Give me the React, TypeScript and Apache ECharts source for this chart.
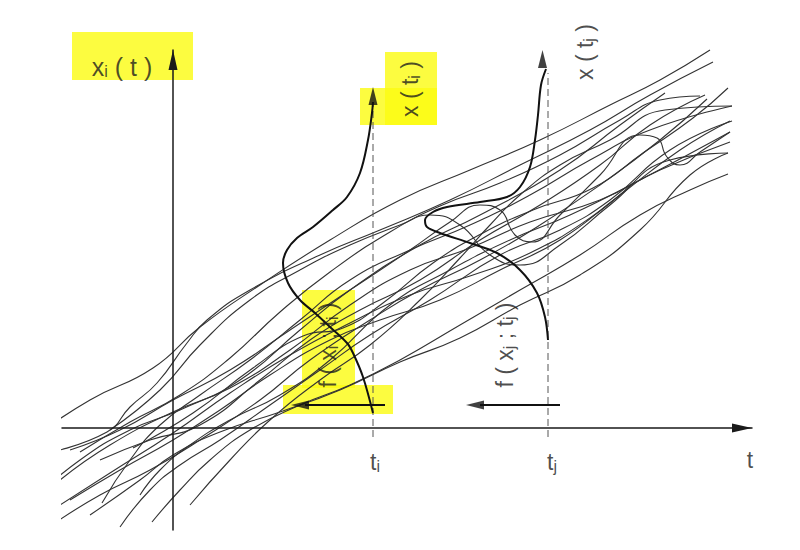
import React, { useEffect, useRef } from "react";
import * as echarts from "echarts";

// time marks on the t axis
const TI = 20;
const TJ = 37.5;

// sample paths x_k(t) : [t, x]
const path01 = [[-13.6,-0.7],[-8.3,2.8],[-2,6],[2.7,10.1],[8.7,14.3],[15.7,18.8],[22.7,22.8],[29.7,25.8],[36.7,28.8],[43.7,32.3],[48.7,34.8],[53.7,37.8]];
const path02 = [[-12.6,-2.5],[-6.6,-0.4],[-4.3,2.1],[-1.6,4.5],[1.4,8.5],[3.4,10.8],[7.7,13.8],[14.7,17.3],[20.7,19.8],[27.7,22.8],[34.7,26.3],[41.7,29.8],[47.7,33.3],[54,36.6]];
const path03 = [[-13.8,-7],[-9.3,-3.2],[-4.3,-0.2],[0.7,1.8],[6.7,4.8],[12.7,9.8],[17.7,13.8],[24.7,18.3],[30.7,21.3],[38.7,25.8],[44.7,30.3],[49.2,33.5]];
const path04 = [[-12.1,-9.7],[-7.3,-6.7],[-2.3,-4.2],[2.7,-1.2],[8.7,2.8],[13.7,6.8],[19.7,10.8],[24.7,13.8],[30.7,16.8],[36.7,20.3],[42.7,24.3],[48.7,28.8],[53.4,32.9]];
const path05 = [[-7.1,-7.5],[-4.3,-3.2],[-1.3,0.3],[2.7,3.3],[7.7,6.8],[12.7,10.8],[17.7,14.8],[23.7,17.8],[29.7,20.3],[35.7,23.3],[41.7,26.8],[47.7,29.8],[55.9,32.2]];
const path06 = [[-5.3,-9.9],[-2.3,-6.2],[0.7,-3.7],[4.7,-1.2],[9.7,2.3],[14.7,5.8],[19.7,9.3],[25.7,12.8],[32.7,17.3],[38.7,19.8],[43.7,22.8],[49.7,27.8],[55.9,30.7]];
const path07 = [[-3.3,-6.7],[-1.3,-4.2],[1.7,-1.7],[5.7,0.8],[10.7,3.3],[15.7,6.8],[21.7,12.3],[27.7,15.8],[33.7,18.8],[39.7,21.3],[46.7,24.8],[55.7,29.6]];
const path08 = [[-2.1,-9.4],[0.7,-6.2],[3.7,-3.2],[7.7,-0.2],[12.7,2.3],[17.7,4.3],[22.7,6.8],[28.7,10.3],[34.7,13.8],[40.7,17.3],[46.7,21.3],[51.7,23.8],[55.5,25.4]];
const path09 = [[-10.3,-2.2],[-5.3,-0.2],[0,2.8],[5.7,5.8],[11.7,9.8],[17.7,13.8],[23.7,17.8],[27.7,20.6],[30.7,22.3],[32.7,21.8],[34.2,19.3],[35.9,18.6],[38.7,21.3],[42.7,25.3],[46.7,29.3],[48.4,29],[49.4,27.1],[50.7,26.3],[52.7,27.6],[55.7,29.6]];
const path10 = [[-8.3,-8.7],[-3.3,-5.2],[0,-2.7],[4.7,-0.4],[10.7,1.6],[16.7,3.8],[22.7,6.6],[28.7,9],[34.7,12.3],[40.7,15.3],[46.7,19.8],[51.7,25.3],[55.5,27.5]];
const path11 = [[-11.3,-5.2],[-6.3,-1.7],[0,1.6],[5.7,4],[11.7,7.8],[17.7,12.3],[23.7,15.8],[29.7,18],[35.7,20.6],[42.7,22.8],[48.7,25.8],[55.7,28.6]];
const path12 = [[-9.3,-2.4],[-4.3,0.6],[0.7,3.3],[5.7,7],[10.7,11.6],[15.7,15.6],[21.7,19.6],[26.7,22.2],[32.7,24.5],[38.7,27.3],[44.7,30.8],[48.7,32.8],[52.7,33.2]];
const path13 = [[1.7,-7.7],[5.7,-3.2],[9.7,0.8],[14.7,4.8],[19.7,8.3],[24.7,12.8],[28.7,17],[31.7,20.3],[34.7,23.3],[38.7,26.3],[43.7,28.8],[49.2,31.8],[55.9,32.2]];
const path14 = [[-6.3,-0.2],[-1.3,3.8],[2.7,8.3],[7.7,12.8],[12.7,15.8],[17.7,18.3],[22.7,20.3],[25.7,21.3],[28.7,20.3],[31.7,17.3],[34.7,16.3],[38.7,18.3],[43.7,22.3],[49.7,26.8],[55.5,27.5]];
const path15 = [[-10.3,-7.2],[-5.3,-4.2],[0,-1.2],[4.7,1.8],[9.7,5.3],[15.7,8.8],[20.7,10.8],[26.7,12.8],[32.7,15.8],[38.7,18.8],[44.7,23.3],[50.7,27.8],[55.7,30.7]];
const path16 = [[-7.3,-3.2],[-2.3,-1.2],[2.7,0.3],[8.7,4.8],[13.7,8.8],[18.7,11.8],[24.7,14.8],[30.7,18.8],[36.7,22.3],[42.7,26.3],[47.7,30.3],[53.2,33.3]];
const path17 = [[-11.3,-7.7],[-6.3,-4.5],[0,-0.5],[5.7,3.5],[11.7,7.3],[17.7,10.5],[23.7,13.3],[29.7,15.2],[35.7,17.5],[41.7,21],[46,24.5]];
const path18 = [[-4,-2],[2,1.5],[8,6],[13,9.2],[17,10],[21,12.5],[26,16.5],[31,19.5],[36,21.8],[42,24],[47,27.5],[52,31],[55.5,34]];

const paths = [path01, path02, path03, path04, path05, path06, path07, path08,
  path09, path10, path11, path12, path13, path14, path15, path16, path17, path18];

// density f(x_i; t_i) drawn sideways at t_i : [t, x]
const densityI = [[20,1.5],[19,5.1],[18,7.5],[17.4,8.5],[15.7,10.1],[14.2,11.5],[12.7,12.8],[11.5,14.5],[11,16.5],[11.4,17.8],[12.4,19],[14,20.1],[16,21.8],[17.4,23.1],[18.7,25.5],[19.5,28.8],[19.9,31.5],[20,32.6]];
// density f(x_j; t_j) drawn sideways at t_j
const densityJ = [[37.5,8.8],[37.2,11.1],[36.4,13.5],[34.7,15.8],[32.4,17.5],[29.7,18.5],[26.7,19.5],[25.4,20.1],[25.2,20.8],[26,21.6],[27.4,22.1],[30.7,22.6],[33.4,23.1],[34.7,24.1],[35.7,26.1],[36.2,28.8],[36.5,31.3],[36.8,34.3],[37.3,35.9]];

// labels (text) and their anchor points
const labelTexts = ["x{s|i} ( t )", "x ( t{s|i} )", "x ( t{s|j} )", "f ( x{s|i} ; t{s|i} )", "f ( x{s|j} ; t{s|j} )", "t{s|i}", "t{s|j}", "t"];
const labelPoints = [[-5.1,36.1],[23.7,33.9],[41.2,37.6],[15.5,8.3],[33.2,8.3],[20.2,-3.4],[37.9,-3.4],[57.7,-3.2]];
const labelRotations = [0, 90, 90, 90, 90, 0, 0, 0];

// highlighter marks: centre [t, x], size [w, h] px
const highlightPoints = [[-4.05,37.2],[23.8,33.95],[22.55,32.15],[15.55,8.9],[16.5,2.85]];
const highlightSizes = [[121,48],[52,73],[77,37],[53,98],[110,29]];

// arrows: shafts for f(...) and heads
const arrowShafts = [[[21.2,2.3],[13.2,2.3]],[[38.7,2.3],[30.7,2.3]]];
const arrowHeads = [[20,33.2],[36.95,36.9],[12.7,2.3],[30.2,2.3]];
const arrowRot = [0, 0, 90, 90];

const FONT = "'Liberation Sans', Arial, Helvetica, sans-serif";

export default function App() {
  const ref = useRef<HTMLDivElement>(null);
  useEffect(() => {
    if (!ref.current) return;
    const chart = echarts.init(ref.current, undefined, { renderer: "svg" });
    const series: any[] = [];

    series.push({
      type: "scatter",
      z: 1,
      silent: true,
      symbol: "rect",
      itemStyle: { color: "#fbfb10" },
      data: highlightPoints.map((p, i) => ({ value: p, symbolSize: highlightSizes[i] })),
    });

    paths.forEach((p) => {
      series.push({
        type: "line",
        data: p,
        smooth: 0.5,
        symbol: "none",
        clip: false,
        silent: true,
        z: 2,
        lineStyle: { color: "#333", width: 1.1 },
      });
    });

    [TI, TJ].forEach((t, k) => {
      series.push({
        type: "line",
        data: [[t, -0.9], [t, k === 0 ? 32.6 : 35.5]],
        symbol: "none",
        clip: false,
        silent: true,
        z: 3,
        lineStyle: { color: "#555", width: 1, type: [7, 4] },
      });
    });

    [densityI, densityJ].forEach((d) => {
      series.push({
        type: "line",
        data: d,
        smooth: 0.35,
        symbol: "none",
        clip: false,
        silent: true,
        z: 4,
        lineStyle: { color: "#111", width: 2 },
      });
    });

    arrowShafts.forEach((s) => {
      series.push({
        type: "line",
        data: s,
        symbol: "none",
        clip: false,
        silent: true,
        z: 4,
        lineStyle: { color: "#111", width: 2.2 },
      });
    });

    series.push({
      type: "scatter",
      z: 5,
      silent: true,
      symbol: "triangle",
      symbolSize: [9, 18],
      itemStyle: { color: "#111" },
      data: arrowHeads.map((p, i) => ({ value: p, symbolRotate: arrowRot[i] })),
    });

    series.push({
      type: "scatter",
      z: 6,
      silent: true,
      symbolSize: 1,
      itemStyle: { color: "rgba(0,0,0,0)" },
      data: labelPoints.map((p, i) => ({
        value: p,
        label: {
          show: true,
          position: "inside",
          rotate: labelRotations[i],
          formatter: labelTexts[i],
          color: "#1e1e1e",
          fontFamily: FONT,
          fontSize: i === 0 ? 25 : 23,
          rich: {
            s: { fontSize: 16, fontFamily: FONT, color: "#1e1e1e", padding: [9, 0, 0, 0] },
          },
        },
      })),
    });

    const axisCommon = {
      type: "value",
      axisTick: { show: false },
      axisLabel: { show: false },
      splitLine: { show: false },
      z: 3,
    };

    chart.setOption({
      animation: false,
      grid: { left: 62, right: 48, top: 50, bottom: 20 },
      xAxis: {
        ...axisCommon,
        min: -11.1,
        max: 57.9,
        axisLine: {
          onZero: true,
          lineStyle: { color: "#1a1a1a", width: 1.5 },
          symbol: ["none", "triangle"],
          symbolSize: [9, 20],
          symbolOffset: [0, -10],
        },
      },
      yAxis: {
        ...axisCommon,
        min: -10.2,
        max: 37.8,
        axisLine: {
          onZero: true,
          lineStyle: { color: "#1a1a1a", width: 1.5 },
          symbol: ["none", "triangle"],
          symbolSize: [9, 20],
          symbolOffset: [0, -10],
        },
      },
      series,
    });
    return () => chart.dispose();
  }, []);
  return (
    <div
      ref={ref}
      style={{ position: "absolute", left: 0, top: 0, width: 800, height: 550, background: "#fff" }}
    />
  );
}
